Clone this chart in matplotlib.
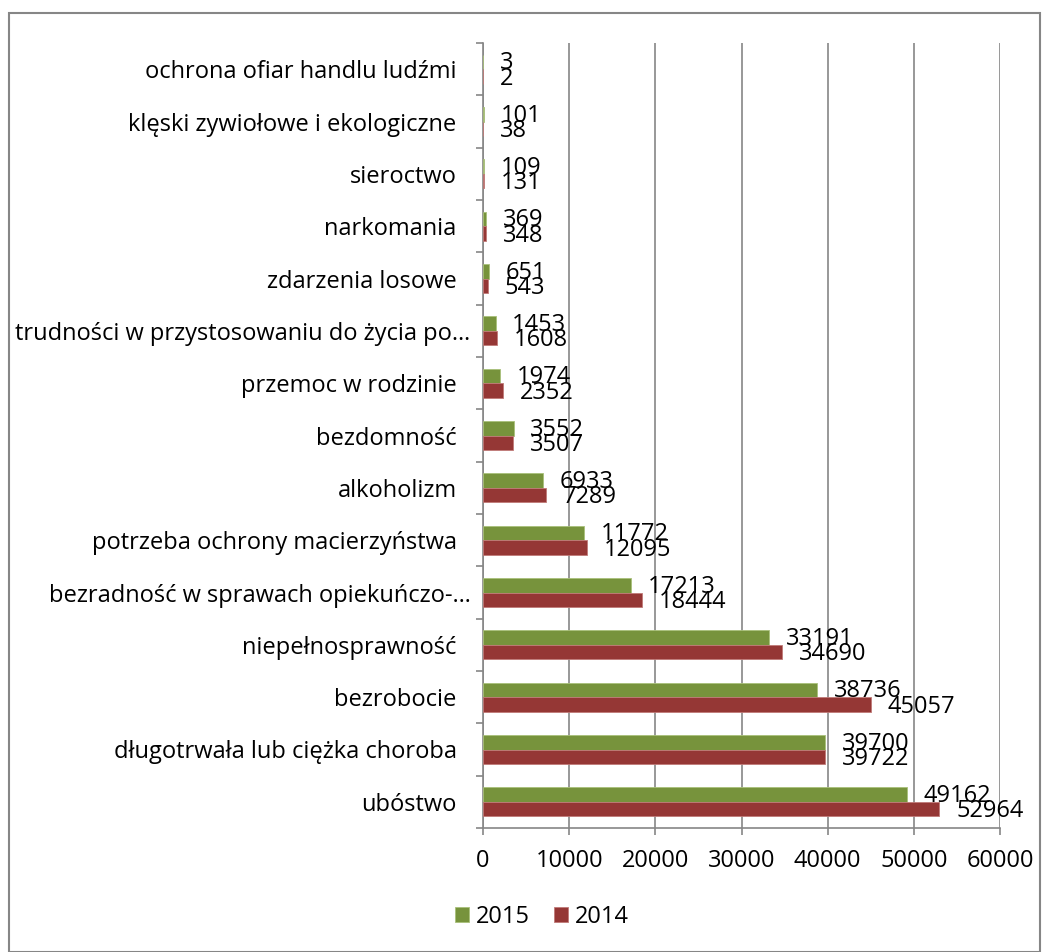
import matplotlib
matplotlib.use("Agg")
import matplotlib.pyplot as plt
import numpy as np
from matplotlib.patches import Rectangle
from matplotlib.transforms import ScaledTranslation

plt.rcParams['font.family'] = ['Open Sans', 'DejaVu Sans']

categories = [
    "ochrona ofiar handlu ludźmi",
    "klęski zywiołowe i ekologiczne",
    "sieroctwo",
    "narkomania",
    "zdarzenia losowe",
    "trudności w przystosowaniu do życia po…",
    "przemoc w rodzinie",
    "bezdomność",
    "alkoholizm",
    "potrzeba ochrony macierzyństwa",
    "bezradność w sprawach opiekuńczo-…",
    "niepełnosprawność",
    "bezrobocie",
    "długotrwała lub ciężka choroba",
    "ubóstwo",
]
values_2015 = [3, 101, 109, 369, 651, 1453, 1974, 3552, 6933, 11772, 17213, 33191, 38736, 39700, 49162]
values_2014 = [2, 38, 131, 348, 543, 1608, 2352, 3507, 7289, 12095, 18444, 34690, 45057, 39722, 52964]
xticks = [0, 10000, 20000, 30000, 40000, 50000, 60000]

green = "#77933C"
red = "#953735"
gray = "#868686"
FS = 17

fig = plt.figure(figsize=(10.46, 9.52), dpi=100)
ax = fig.add_axes([483/1046, 1-828/952, (1000-483)/1046, (828-43)/952])

n = len(categories)
y = np.arange(n)[::-1]  # top category at top
h = 0.28
ax.barh(y + h/2, values_2015, height=h, color=green, edgecolor="#a9c07a", linewidth=0.6, label="2015", zorder=3)
ax.barh(y - h/2, values_2014, height=h, color=red, edgecolor="#c07a78", linewidth=0.6, label="2014", zorder=3)

for yi, v15, v14 in zip(y, values_2015, values_2014):
    ax.annotate(str(v15), (v15, yi + h/2), xytext=(12, -1), textcoords="offset points",
                ha="left", va="center", fontsize=FS, color="black", zorder=4)
    ax.annotate(str(v14), (v14, yi - h/2), xytext=(12, -1.5), textcoords="offset points",
                ha="left", va="center", fontsize=FS, color="black", zorder=4)

ax.set_xlim(0, 60000)
ax.set_ylim(-0.5, n - 0.5)
ax.set_xticks(xticks)
ax.set_xticklabels([str(t) for t in xticks], fontsize=FS)
ax.set_yticks(y)
ax.set_yticklabels(categories, fontsize=FS)
ax.set_yticks(np.arange(-0.5, n, 1.0), minor=True)
ax.tick_params(axis="y", which="major", length=0, pad=19)
ax.tick_params(axis="y", which="minor", length=5, color=gray, width=1.2)
ax.tick_params(axis="x", which="major", length=5, color=gray, width=1.2, pad=10)
ax.grid(axis="x", color=gray, linewidth=1.2, zorder=0)
for s in ["top", "right"]:
    ax.spines[s].set_visible(False)
for s in ["left", "bottom"]:
    ax.spines[s].set_color(gray)
    ax.spines[s].set_linewidth(1.2)

# truncated labels sit closer to the axis, as in the reference
for lbl in ax.get_yticklabels():
    if lbl.get_text().endswith("…"):
        lbl.set_transform(lbl.get_transform() + ScaledTranslation(14/100, 0, fig.dpi_scale_trans))

fig.legend(loc="center", bbox_to_anchor=(542/1046, 1-917/952), ncol=2, frameon=False,
           fontsize=FS, handlelength=0.6, handleheight=0.6, handletextpad=0.3, columnspacing=1.0)

fig.patches.append(Rectangle((9/1046, 0.0), (1040-9)/1046, 1-13/952, transform=fig.transFigure,
                             fill=False, edgecolor=gray, linewidth=1.5))

fig.savefig("out.png", dpi=100)
